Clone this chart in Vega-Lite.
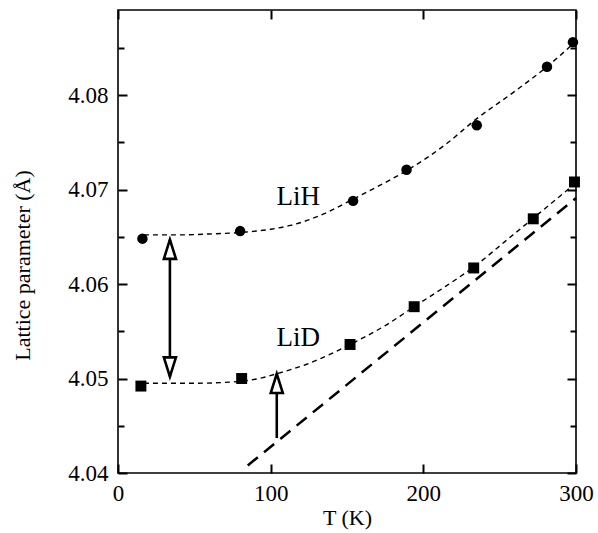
{
  "$schema": "https://vega.github.io/schema/vega-lite/v6.json",
  "autosize": {"type": "none"},
  "padding": {"left": 118, "top": 10, "right": 22, "bottom": 60},
  "width": 458,
  "height": 463,
  "config": {
    "view": {"stroke": "#000", "strokeWidth": 1.6},
    "font": "Liberation Serif",
    "axis": {"domain": false, "grid": false, "tickColor": "#000", "tickWidth": 2, "labelColor": "#000", "titleColor": "#000", "labelFont": "Liberation Serif", "titleFont": "Liberation Serif", "labelFontSize": 23, "titleFontSize": 22, "titleFontWeight": "normal"}
  },
  "datasets": {
    "lih": [
      {"T": 16, "a": 4.0648}, {"T": 80, "a": 4.0656}, {"T": 154, "a": 4.0688}, {"T": 189, "a": 4.0721},
      {"T": 235, "a": 4.0768}, {"T": 281, "a": 4.0830}, {"T": 298, "a": 4.0856}
    ],
    "lid": [
      {"T": 15, "a": 4.0492}, {"T": 81, "a": 4.0500}, {"T": 152, "a": 4.0536}, {"T": 194, "a": 4.0576},
      {"T": 233, "a": 4.0617}, {"T": 272, "a": 4.0669}, {"T": 299, "a": 4.0708}
    ],
    "fitH": [
      {"T": 17, "a": 4.0652}, {"T": 40, "a": 4.0652}, {"T": 60, "a": 4.0653}, {"T": 84, "a": 4.0655},
      {"T": 100, "a": 4.0658}, {"T": 113, "a": 4.0662}, {"T": 130, "a": 4.0671}, {"T": 141, "a": 4.0679},
      {"T": 153, "a": 4.0689}, {"T": 178, "a": 4.0710}, {"T": 189, "a": 4.0720}, {"T": 214, "a": 4.0747},
      {"T": 235, "a": 4.0775}, {"T": 260, "a": 4.0804}, {"T": 281, "a": 4.0830}, {"T": 300, "a": 4.0857}
    ],
    "fitD": [
      {"T": 17, "a": 4.0495}, {"T": 50, "a": 4.0495}, {"T": 80, "a": 4.0497}, {"T": 95, "a": 4.0501},
      {"T": 104, "a": 4.0505}, {"T": 125, "a": 4.0516}, {"T": 152, "a": 4.0536}, {"T": 175, "a": 4.0556},
      {"T": 194, "a": 4.0576}, {"T": 215, "a": 4.0598}, {"T": 233, "a": 4.0618}, {"T": 255, "a": 4.0647},
      {"T": 276, "a": 4.0675}, {"T": 300, "a": 4.0707}
    ],
    "classical": [{"T": 85, "a": 4.0408}, {"T": 300, "a": 4.0691}],
    "shafts": [{"T": 34, "a": 4.0647, "a2": 4.0502}, {"T": 104, "a": 4.0437, "a2": 4.0505}],
    "heads": [{"T": 34, "a": 4.0647, "dir": "up"}, {"T": 34, "a": 4.0502, "dir": "down"}, {"T": 104, "a": 4.0505, "dir": "up"}],
    "labels": [{"T": 118, "a": 4.0684, "text": "LiH"}, {"T": 118, "a": 4.0534, "text": "LiD"}]
  },
  "encoding": {
    "x": {"field": "T", "type": "quantitative", "scale": {"domain": [0, 300], "nice": false, "zero": false}, "axis": null},
    "y": {"field": "a", "type": "quantitative", "scale": {"domain": [4.04, 4.089], "nice": false, "zero": false}, "axis": null}
  },
  "resolve": {"axis": {"x": "independent", "y": "independent"}},
  "layer": [
    {
      "data": {"name": "fitH"},
      "mark": {"type": "line", "interpolate": "monotone", "color": "#000", "strokeWidth": 1.4, "strokeDash": [5, 4]},
      "encoding": {
        "x": {"field": "T", "type": "quantitative", "scale": {"domain": [0, 300], "nice": false, "zero": false},
          "axis": {"orient": "bottom", "values": [0, 100, 200, 300], "tickSize": -9, "labelPadding": 18, "title": "T (K)", "titlePadding": 2, "labelFlush": false}},
        "y": {"field": "a", "type": "quantitative", "scale": {"domain": [4.04, 4.089], "nice": false, "zero": false},
          "axis": {"orient": "left", "values": [4.04, 4.045, 4.05, 4.055, 4.06, 4.065, 4.07, 4.075, 4.08, 4.085],
            "tickSize": {"condition": {"test": "round(datum.value*1000) % 10 == 0", "value": -9}, "value": -6},
            "labelExpr": "round(datum.value*1000) % 10 == 0 ? format(datum.value, '.2f') : ''",
            "labelPadding": 19, "labelFlush": false, "title": "Lattice parameter (Å)",
            "titleAngle": -90, "titleX": -96, "titleY": 255, "titleAlign": "center", "titleBaseline": "middle"}}
      }
    },
    {
      "data": {"name": "fitD"},
      "mark": {"type": "line", "interpolate": "monotone", "color": "#000", "strokeWidth": 1.4, "strokeDash": [5, 4]}
    },
    {
      "data": {"name": "classical"},
      "mark": {"type": "line", "color": "#000", "strokeWidth": 2.5, "strokeDash": [13, 8]}
    },
    {
      "data": {"name": "lih"},
      "mark": {"type": "point", "shape": "circle", "filled": true, "color": "#000", "size": 110, "opacity": 1}
    },
    {
      "data": {"name": "lid"},
      "mark": {"type": "point", "shape": "square", "filled": true, "color": "#000", "size": 120, "opacity": 1}
    },
    {
      "data": {"name": "shafts"},
      "mark": {"type": "rule", "color": "#000", "strokeWidth": 2.6},
      "encoding": {"y2": {"field": "a2"}}
    },
    {
      "data": {"name": "heads"},
      "mark": {"type": "point", "filled": false, "fill": "#fff", "fillOpacity": 1, "stroke": "#000", "strokeWidth": 2.6, "size": 484, "opacity": 1},
      "encoding": {
        "shape": {"field": "dir", "type": "nominal", "legend": null,
          "scale": {"domain": ["up", "down"], "range": ["M0,0L0.55,1.75L-0.55,1.75Z", "M0,0L0.55,-1.75L-0.55,-1.75Z"]}}
      }
    },
    {
      "data": {"name": "labels"},
      "mark": {"type": "text", "font": "Liberation Serif", "fontSize": 27, "color": "#000", "align": "center", "baseline": "alphabetic"},
      "encoding": {"text": {"field": "text"}}
    },
    {
      "data": {"name": "lih"},
      "mark": {"type": "point", "opacity": 0},
      "encoding": {
        "x": {"field": "T", "type": "quantitative", "scale": {"domain": [0, 300], "nice": false, "zero": false},
          "axis": {"orient": "top", "values": [0, 100, 200, 300], "tickSize": -9, "labels": false, "title": null}},
        "y": {"field": "a", "type": "quantitative", "scale": {"domain": [4.04, 4.089], "nice": false, "zero": false},
          "axis": {"orient": "right", "values": [4.04, 4.045, 4.05, 4.055, 4.06, 4.065, 4.07, 4.075, 4.08, 4.085],
            "tickSize": {"condition": {"test": "round(datum.value*1000) % 10 == 0", "value": -9}, "value": -6},
            "labels": false, "title": null}}
      }
    }
  ]
}
